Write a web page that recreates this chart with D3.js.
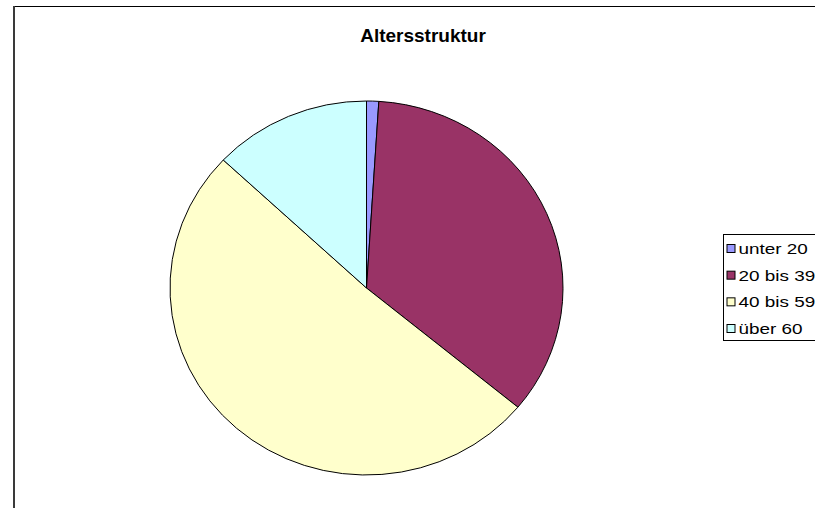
<!DOCTYPE html>
<html>
<head>
<meta charset="utf-8">
<script src="https://cdn.jsdelivr.net/npm/d3@7"></script>
<style>
  body { margin: 0; background: #fff; }
  svg { display: block; font-family: "Liberation Sans", Arial, sans-serif; }
</style>
</head>
<body>
<div id="chart"></div>
<script>
// data (percent share)
var categories = ["unter 20", "20 bis 39", "40 bis 59", "über 60"];
var values = [1, 35, 51, 13];
var colors = ["#9999ff", "#993366", "#ffffcc", "#ccffff"];

var width = 815, height = 508;
var svg = d3.select("#chart").append("svg")
    .attr("width", width)
    .attr("height", height);

// chart frame (only top and left edges show in the window)
svg.append("line")
    .attr("x1", 14).attr("x2", width)
    .attr("y1", 6.5).attr("y2", 6.5)
    .style("stroke", "#000").style("stroke-width", 1);
svg.append("line")
    .attr("x1", 14).attr("x2", 14)
    .attr("y1", 6).attr("y2", height)
    .style("stroke", "#3a3a3a").style("stroke-width", 2);

// title
svg.append("text")
    .attr("x", 423)
    .attr("y", 41.5)
    .style("text-anchor", "middle")
    .style("font-weight", "bold")
    .style("font-size", "19px")
    .text("Altersstruktur");

// pie, slightly squashed vertically like the original
var rx = 196.5, ry = 187;
var pie = d3.pie().sort(null).value(function (d) { return d; });
var arc = d3.arc().innerRadius(0).outerRadius(rx);

var g = svg.append("g")
    .attr("transform", "translate(366.5,288) scale(1," + (ry / rx) + ")");

g.selectAll("path")
    .data(pie(values))
    .enter()
    .append("path")
    .attr("d", arc)
    .attr("fill", function (d, i) { return colors[i]; })
    .attr("stroke", "#000")
    .attr("stroke-width", 1)
    .attr("vector-effect", "non-scaling-stroke");

// legend
var legend = svg.append("g").attr("transform", "translate(723.5,234.5)");
legend.append("rect")
    .attr("width", 120).attr("height", 106)
    .attr("fill", "#fff")
    .attr("stroke", "#000").attr("stroke-width", 1);

var rowY = d3.scalePoint().domain(categories).range([14.5, 94.5]);

var items = legend.selectAll("g.item")
    .data(categories)
    .enter()
    .append("g")
    .attr("class", "item")
    .attr("transform", function (d) { return "translate(0," + rowY(d) + ")"; });

items.append("rect")
    .attr("x", 3.5).attr("y", -4.5)
    .attr("width", 8).attr("height", 8)
    .attr("fill", function (d, i) { return colors[i]; })
    .attr("stroke", "#000").attr("stroke-width", 1);

items.append("text")
    .attr("transform", "translate(15,5) scale(1.35,1)")
    .style("font-size", "14px")
    .text(function (d) { return d; });
</script>
</body>
</html>
